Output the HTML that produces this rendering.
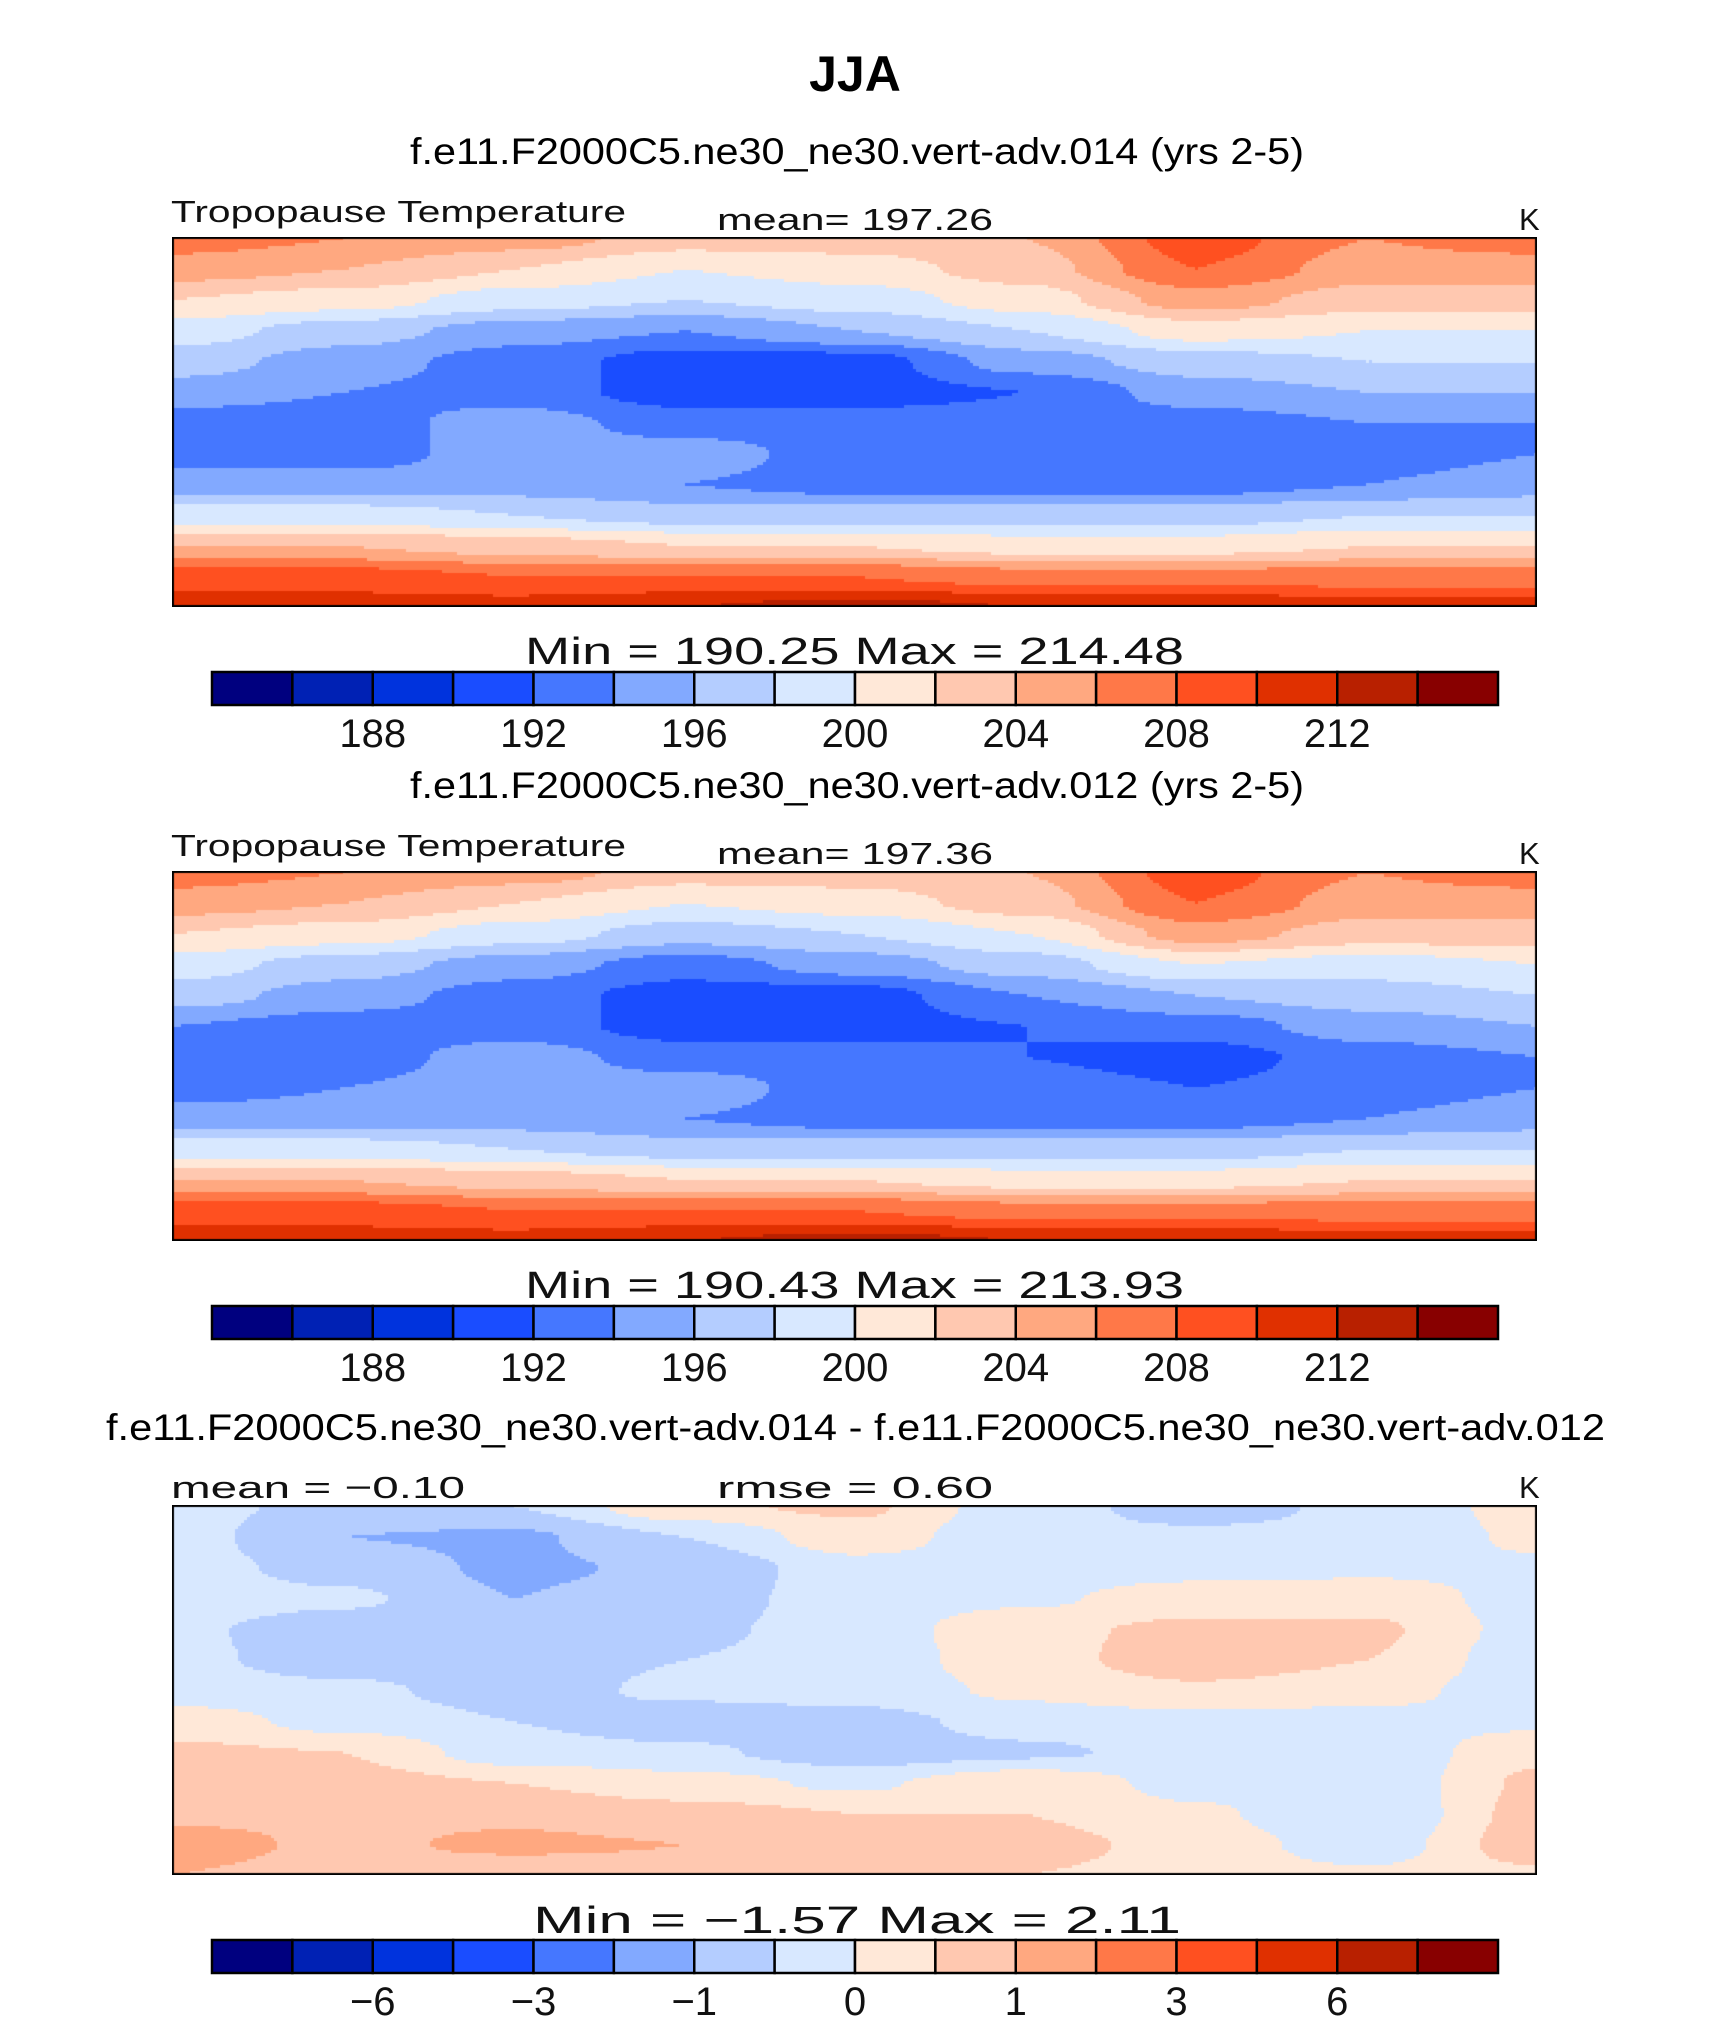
<!DOCTYPE html>
<html><head><meta charset="utf-8">
<style>
html,body{margin:0;padding:0;background:#fff;}
#root{position:relative;width:1710px;height:2036px;overflow:hidden;}
canvas{position:absolute;}
svg{position:absolute;left:0;top:0;}
text{font-family:"Liberation Sans",sans-serif;fill:#000;}
.thin{fill:#111;}
</style></head>
<body>
<div id="root">
<canvas id="map1" width="1365" height="370" style="left:172px;top:237px"></canvas>
<canvas id="map2" width="1365" height="370" style="left:172px;top:871px"></canvas>
<canvas id="map3" width="1365" height="370" style="left:172px;top:1505px"></canvas>
<svg id="ov" width="1710" height="2036">
<text x="855" y="91" font-size="50" font-weight="bold" text-anchor="middle">JJA</text>
<text x="410" y="164" font-size="37" textLength="894" lengthAdjust="spacingAndGlyphs">f.e11.F2000C5.ne30_ne30.vert-adv.014 (yrs 2-5)</text>
<text x="410" y="798" font-size="37" textLength="894" lengthAdjust="spacingAndGlyphs">f.e11.F2000C5.ne30_ne30.vert-adv.012 (yrs 2-5)</text>
<text x="106" y="1440" font-size="37" textLength="1499" lengthAdjust="spacingAndGlyphs">f.e11.F2000C5.ne30_ne30.vert-adv.014 - f.e11.F2000C5.ne30_ne30.vert-adv.012</text>

<text class="thin" x="171" y="222" font-size="31" textLength="455" lengthAdjust="spacingAndGlyphs">Tropopause  Temperature</text>
<text class="thin" x="717" y="230" font-size="31" textLength="276" lengthAdjust="spacingAndGlyphs">mean=  197.26</text>
<text class="thin" x="1519" y="230" font-size="31">K</text>
<text class="thin" x="171" y="856" font-size="31" textLength="455" lengthAdjust="spacingAndGlyphs">Tropopause  Temperature</text>
<text class="thin" x="717" y="864" font-size="31" textLength="276" lengthAdjust="spacingAndGlyphs">mean=  197.36</text>
<text class="thin" x="1519" y="864" font-size="31">K</text>
<text class="thin" x="171" y="1498" font-size="31" textLength="294" lengthAdjust="spacingAndGlyphs">mean =   −0.10</text>
<text class="thin" x="717" y="1498" font-size="31" textLength="276" lengthAdjust="spacingAndGlyphs">rmse =    0.60</text>
<text class="thin" x="1519" y="1498" font-size="31">K</text>

<text class="thin" x="525" y="664" font-size="38" textLength="659" lengthAdjust="spacingAndGlyphs">Min  =  190.25  Max  =  214.48</text>
<text class="thin" x="525" y="1298" font-size="38" textLength="659" lengthAdjust="spacingAndGlyphs">Min  =  190.43  Max  =  213.93</text>
<text class="thin" x="533" y="1933" font-size="38" textLength="648" lengthAdjust="spacingAndGlyphs">Min  =    −1.57  Max  =     2.11</text>
<g id="cbars"></g>
</svg>
</div>
<script>
const palette = ["#00007f","#0021b4","#0033dd","#1a4dff","#4577ff","#82a9ff","#b4cdff","#d8e8ff","#ffe8d8","#ffc8b0","#ffa880","#ff7848","#ff5020","#e03000","#b82000","#880000"];
const levelsT = [186,188,190,192,194,196,198,200,202,204,206,208,210,212,214];
const levelsD = [-8,-6,-4,-3,-2,-1,-0.5,0,0.5,1,2,3,4,6,8];
const tickLabelsT = ["188","192","196","200","204","208","212"];
const tickLabelsD = ["−6","−3","−1","0","1","3","6"];

const field1 = [
 [207,206,205,203,203,204,209,206,207],
 [205,204,202,200,201,203,208,205,205],
 [202,201,199,198,199,201,205,203,203],
 [199,197,195,194,196,198,201,200,200],
 [197,195,193,191,191,195,197,198,198],
 [195,194,193,191,191,192,195,196,196],
 [193,193,195,193,193,193,193,194,194],
 [193,193,195,195,193,193,193,193,194],
 [195,195,195,194,193,193,193,194,195],
 [199,199,198,197,197,197,197,198,198],
 [204,204,203,202,202,201,201,202,202],
 [209,209,208,208,208,207,207,207,207],
 [211,211,211,212,213,212,212,211,211]];
const field2 = [
 [207,206,205,203,203,204,209,206,207],
 [205,204,202,200,201,203,208,205,205],
 [202,201,199,197,198,200,205,203,203],
 [199,197,195,193,195,197,200,199,200],
 [197,195,193,191,191,194,196,197,198],
 [194,193,193,191,191,192,193,195,196],
 [193,193,195,193,193,192,191,193,194],
 [193,194,195,195,193,193,192,193,194],
 [195,195,195,194,193,193,193,194,195],
 [199,199,198,197,197,197,197,198,198],
 [204,204,203,202,202,201,201,202,202],
 [209,209,208,208,208,207,207,207,207],
 [211,211,211,212,213,212,212,211,211]];
const field3 = [
 [-0.3,-0.7,-0.5,0.4,0.6,-0.3,-0.7,-0.4,0.2],
 [-0.3,-1.0,-1.1,-0.5,0.3,-0.4,-0.4,-0.4,0.1],
 [-0.3,-0.7,-1.1,-0.9,-0.2,-0.3,-0.2,-0.1,-0.1],
 [-0.2,-0.4,-1.0,-0.7,-0.3,-0.1,0.3,0.3,-0.2],
 [-0.4,-0.8,-0.8,-0.6,-0.3,0.4,0.6,0.6,-0.2],
 [-0.4,-0.7,-0.7,-0.5,-0.3,0.3,0.8,0.5,-0.3],
 [-0.3,-0.4,-0.7,-0.4,-0.3,0.1,0.4,0.2,-0.3],
 [0.3,-0.2,-0.5,-0.8,-0.7,-0.3,-0.2,-0.2,-0.1],
 [0.6,0.5,-0.3,-0.4,-0.8,-0.6,-0.3,-0.4,0.4],
 [0.8,0.7,0.5,0.2,-0.1,0.4,-0.2,-0.4,0.6],
 [0.9,0.9,0.9,0.7,0.5,0.5,0.1,-0.5,0.7],
 [1.2,0.9,1.1,1.0,0.9,0.7,0.3,-0.3,0.8],
 [1.0,0.8,0.7,0.8,0.7,0.5,0.3,0.1,0.4]];

function colorFor(v, levels){
  let i=0; while(i<levels.length && v>=levels[i]) i++;
  return palette[i];
}
function sample(f,u,v){
  const rows=f.length, cols=f[0].length;
  const y=v*(rows-1), x=u*(cols-1);
  const y0=Math.min(Math.floor(y),rows-2), x0=Math.min(Math.floor(x),cols-2);
  let fy=y-y0, fx=x-x0;
  fy=fy*fy*(3-2*fy); fx=fx*fx*(3-2*fx);
  const a=f[y0][x0], b=f[y0][x0+1], c=f[y0+1][x0], d=f[y0+1][x0+1];
  return a*(1-fx)*(1-fy)+b*fx*(1-fy)+c*(1-fx)*fy+d*fx*fy;
}
function drawMap(id, f, levels){
  const cv=document.getElementById(id), ctx=cv.getContext('2d');
  const W=cv.width, H=cv.height, step=3;
  for(let y=0;y<H;y+=step){
    for(let x=0;x<W;x+=step){
      ctx.fillStyle=colorFor(sample(f,x/(W-1),y/(H-1)),levels);
      ctx.fillRect(x,y,step,step);
    }
  }
  ctx.strokeStyle="#000"; ctx.lineWidth=2; ctx.strokeRect(1,1,W-2,H-2);
}
drawMap('map1',field1,levelsT);
drawMap('map2',field2,levelsT);
drawMap('map3',field3,levelsD);

const NS="http://www.w3.org/2000/svg";
const g=document.getElementById('cbars');
function colorbar(top, labels, name){
  const x0=212, w=1286, h=33, bw=w/palette.length;
  palette.forEach((c,i)=>{
    const r=document.createElementNS(NS,'rect');
    
    
    r.setAttribute('x',x0+i*bw); r.setAttribute('y',top);
    r.setAttribute('width',bw); r.setAttribute('height',h);
    r.setAttribute('fill',c); r.setAttribute('stroke','#000'); r.setAttribute('stroke-width','2.5');
    g.appendChild(r);
  });
  labels.forEach((t,k)=>{
    const tx=document.createElementNS(NS,'text');
    
    
    tx.setAttribute('x',x0+(2+2*k)*bw); tx.setAttribute('y',top+h+42);
    tx.setAttribute('font-size','40'); tx.setAttribute('text-anchor','middle');
    tx.setAttribute('class','thin');
    tx.textContent=t; g.appendChild(tx);
  });
}
colorbar(672,tickLabelsT,'colorbar-1');
colorbar(1306,tickLabelsT,'colorbar-2');
colorbar(1940,tickLabelsD,'colorbar-3');
</script>
</body></html>
